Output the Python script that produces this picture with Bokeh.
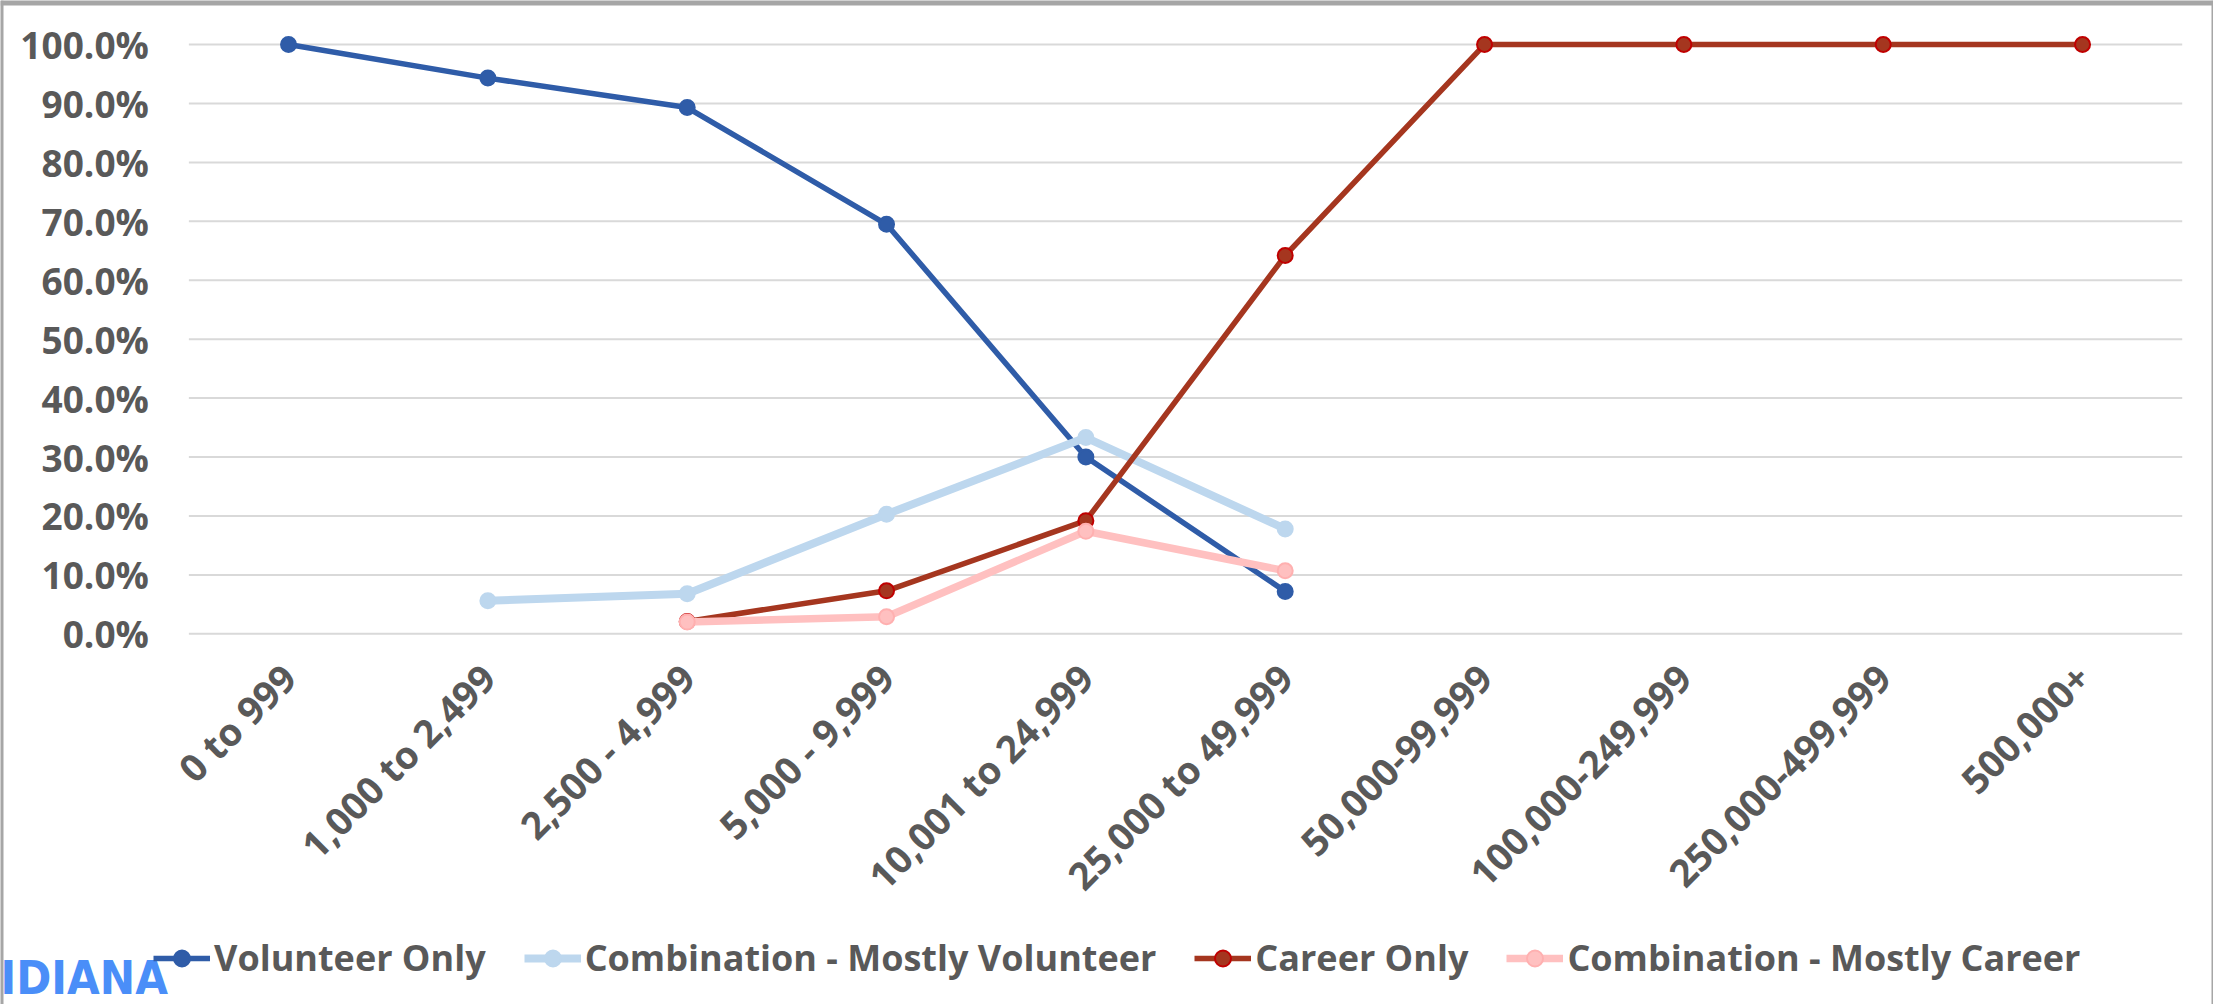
import math
from bokeh.plotting import figure
from bokeh.models import (FixedTicker, PrintfTickFormatter, Legend, LegendItem, Label,
                          Range1d, Span)
from bokeh.embed import file_html
from bokeh.resources import INLINE

nan = float("nan")

categories = ["0 to 999", "1,000 to 2,499", "2,500 - 4,999", "5,000 - 9,999",
              "10,001 to 24,999", "25,000 to 49,999", "50,000-99,999",
              "100,000-249,999", "250,000-499,999", "500,000+"]

volunteer_only = [100.0, 94.3, 89.3, 69.5, 30.0, 7.2, nan, nan, nan, nan]
combo_mostly_volunteer = [nan, 5.6, 6.8, 20.3, 33.3, 17.8, nan, nan, nan, nan]
career_only = [nan, nan, 2.1, 7.3, 19.2, 64.2, 100.0, 100.0, 100.0, 100.0]
combo_mostly_career = [nan, nan, 2.0, 2.9, 17.4, 10.7, nan, nan, nan, nan]

y_ticks = [0, 10, 20, 30, 40, 50, 60, 70, 80, 90, 100]

TXT = "#595959"
FONT = "Open Sans"
W, H = 2213, 1004

xs = list(range(len(categories)))

p = figure(width=W, height=H, output_backend="svg", toolbar_location=None,
           x_range=Range1d(-1.445, 9.657), y_range=Range1d(-62.9, 107.47),
           min_border_left=0, min_border_right=0, min_border_top=0,
           min_border_bottom=0)
p.outline_line_color = None
p.background_fill_color = "white"
p.border_fill_color = "white"
p.xgrid.visible = False
p.ygrid.visible = False

# horizontal gridlines spanning the category band only
p.segment(x0=[xs[0] - 0.5] * len(y_ticks), x1=[xs[-1] + 0.5] * len(y_ticks),
          y0=y_ticks, y1=y_ticks, line_color="#D9D9D9", line_width=2)

p.yaxis.ticker = FixedTicker(ticks=y_ticks)
p.yaxis.formatter = PrintfTickFormatter(format="%.1f%%")
p.yaxis.fixed_location = xs[0] - 0.5
p.xaxis.ticker = FixedTicker(ticks=xs)
p.xaxis.major_label_overrides = {i: c for i, c in zip(xs, categories)}
p.xaxis.fixed_location = -2
for ax in (p.xaxis[0], p.yaxis[0]):
    ax.axis_line_color = None
    ax.major_tick_line_color = None
    ax.minor_tick_line_color = None
    ax.major_label_text_font = FONT
    ax.major_label_text_font_style = "bold"
    ax.major_label_text_color = TXT
p.yaxis.major_label_text_font_size = "37px"
p.yaxis.major_label_standoff = 34
p.xaxis.major_label_text_font_size = "38px"
p.xaxis.major_label_orientation = math.pi / 4
p.xaxis.major_label_standoff = 19

series = [
    ("Volunteer Only", volunteer_only, "#2F5CA8", "#2F5CA8", "#2F5CA8", 5.5),
    ("Combination - Mostly Volunteer", combo_mostly_volunteer, "#BDD7EE", "#BDD7EE", "#BDD7EE", 8),
    ("Career Only", career_only, "#A5361F", "#A5361F", "#C00000", 5.5),
    ("Combination - Mostly Career", combo_mostly_career, "#FFC0C0", "#FFC0C0", "#FFB0B0", 7.5),
]

items = []
for name, vals, lc, fc, ec, lw in series:
    r1 = p.line(xs, vals, line_color=lc, line_width=lw, line_join="round")
    r2 = p.scatter(xs, vals, size=15, fill_color=fc, line_color=ec, line_width=2)
    items.append(LegendItem(label=name, renderers=[r1, r2]))

legend = Legend(items=items, orientation="horizontal", location=(153, 22),
                glyph_width=57, glyph_height=40, label_height=40,
                label_standoff=4, spacing=38, padding=0, margin=0,
                border_line_color=None, background_fill_alpha=0,
                label_text_font=FONT, label_text_font_style="bold",
                label_text_font_size="36px", label_text_color=TXT)
p.add_layout(legend, "center")

wm = Label(x=0, y=0, x_units="screen", y_units="screen", text="IDIANA",
           text_font="'Liberation Sans Narrow', 'DejaVu Sans Condensed', 'Roboto Condensed', 'Liberation Sans', sans-serif",
           text_font_style="bold", text_font_size="47px", text_color="#4A8EF8",
           text_baseline="bottom")
p.add_layout(wm)

# thin grey frame of the original picture
p.add_layout(Span(location=-1.445, dimension="height", line_color="#A6A6A6", line_width=6))
p.add_layout(Span(location=107.47, dimension="width", line_color="#A6A6A6", line_width=10))
p.add_layout(Span(location=9.657, dimension="height", line_color="#A6A6A6", line_width=4))

open("out.html", "w").write(file_html(p, INLINE))
